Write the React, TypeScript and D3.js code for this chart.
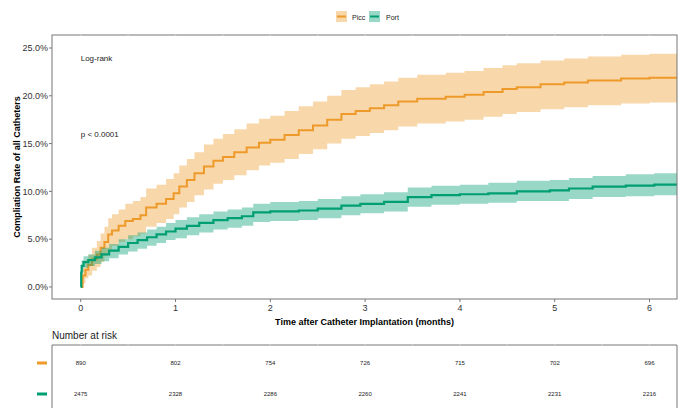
import React from "react";
import * as d3 from "d3";

// Kaplan-Meier style cumulative incidence (%)
const piccTime = [0, 0.02, 0.05, 0.08, 0.12, 0.17, 0.21, 0.25, 0.29, 0.33, 0.4, 0.47, 0.55, 0.63, 0.69, 0.8, 0.9, 0.98, 1.04, 1.12, 1.2, 1.3, 1.4, 1.5, 1.62, 1.75, 1.88, 2.0, 2.15, 2.3, 2.45, 2.6, 2.75, 2.9, 3.05, 3.2, 3.35, 3.55, 3.85, 4.05, 4.25, 4.45, 4.6, 4.85, 5.1, 5.35, 5.7, 6.0, 6.29];
const piccEst = [0, 1.2, 1.8, 2.3, 2.9, 3.4, 4.1, 4.7, 5.5, 5.9, 6.4, 6.9, 7.1, 7.5, 8.3, 8.7, 9.2, 9.8, 10.5, 11.2, 11.9, 12.6, 13.2, 13.6, 14.1, 14.6, 15.1, 15.4, 15.9, 16.4, 16.9, 17.5, 18.1, 18.4, 18.7, 19.0, 19.4, 19.7, 19.9, 20.1, 20.4, 20.7, 20.9, 21.2, 21.4, 21.6, 21.8, 21.9, 21.9];
const piccLow = [0, 0.4, 0.9, 1.2, 1.7, 2.1, 2.6, 3.2, 3.8, 4.3, 4.7, 5.0, 5.3, 5.6, 6.3, 6.7, 7.1, 7.6, 8.3, 8.9, 9.6, 10.2, 10.8, 11.2, 11.7, 12.2, 12.7, 13.0, 13.4, 13.9, 14.4, 15.0, 15.5, 15.8, 16.1, 16.4, 16.8, 17.1, 17.3, 17.5, 17.8, 18.1, 18.3, 18.6, 18.8, 19.0, 19.2, 19.3, 19.3];
const piccHigh = [0, 2.0, 2.8, 3.4, 4.1, 4.8, 5.6, 6.3, 7.2, 7.6, 8.1, 8.7, 9.0, 9.4, 10.3, 10.7, 11.3, 11.9, 12.7, 13.4, 14.1, 14.9, 15.5, 16.0, 16.5, 17.1, 17.6, 17.9, 18.4, 18.9, 19.4, 20.0, 20.6, 20.9, 21.2, 21.5, 21.9, 22.2, 22.4, 22.6, 22.9, 23.2, 23.4, 23.7, 23.9, 24.1, 24.3, 24.4, 24.4];

const portTime = [0, 0.005, 0.01, 0.03, 0.08, 0.15, 0.22, 0.3, 0.4, 0.5, 0.6, 0.7, 0.8, 0.9, 1.0, 1.12, 1.25, 1.4, 1.55, 1.7, 1.82, 2.0, 2.3, 2.5, 2.75, 2.95, 3.2, 3.45, 3.7, 4.0, 4.3, 4.6, 4.95, 5.15, 5.4, 5.75, 6.05, 6.29];
const portEst = [0, 1.5, 2.2, 2.6, 2.8, 3.1, 3.4, 3.8, 4.2, 4.6, 4.9, 5.2, 5.5, 5.8, 6.1, 6.4, 6.7, 7.0, 7.2, 7.4, 7.8, 7.9, 8.0, 8.2, 8.5, 8.7, 8.9, 9.4, 9.6, 9.7, 9.8, 10.0, 10.1, 10.3, 10.5, 10.6, 10.7, 10.7];
const portLow = [0, 1.0, 1.6, 2.0, 2.2, 2.4, 2.7, 3.0, 3.4, 3.7, 4.0, 4.3, 4.6, 4.9, 5.1, 5.4, 5.7, 6.0, 6.2, 6.4, 6.8, 6.9, 7.0, 7.2, 7.5, 7.7, 7.9, 8.4, 8.6, 8.7, 8.8, 9.0, 9.0, 9.2, 9.4, 9.5, 9.6, 9.6];
const portHigh = [0, 2.0, 2.8, 3.2, 3.4, 3.8, 4.1, 4.5, 5.0, 5.4, 5.7, 6.0, 6.3, 6.7, 7.0, 7.3, 7.6, 7.9, 8.1, 8.3, 8.7, 8.9, 9.0, 9.2, 9.5, 9.7, 9.9, 10.4, 10.6, 10.7, 10.9, 11.1, 11.2, 11.4, 11.6, 11.8, 11.9, 11.9];

const xTicks = [0, 1, 2, 3, 4, 5, 6];
const yTicks = [0, 5, 10, 15, 20, 25];
const piccRisk = [890, 802, 754, 726, 715, 702, 696];
const portRisk = [2475, 2328, 2286, 2260, 2241, 2231, 2216];

const W = 681;
const H = 408;
const left = 52;
const right = 677;
const top = 35;
const bottom = 299;
const tableTop = 345;

const font = "'Liberation Sans', Arial, sans-serif";
const orange = "#EE9A2A";
const green = "#009E73";

const x = d3.scaleLinear().domain([-0.303, 6.29]).range([left, right]);
const y = d3.scaleLinear().domain([-1.26, 26.36]).range([bottom, top]);

type Pt = { t: number; e: number; lo: number; hi: number };

const zipSeries = (t: number[], e: number[], lo: number[], hi: number[]): Pt[] =>
  t.map((v, i) => ({ t: v, e: e[i], lo: lo[i], hi: hi[i] }));

const picc = zipSeries(piccTime, piccEst, piccLow, piccHigh);
const port = zipSeries(portTime, portEst, portLow, portHigh);

const line = d3
  .line<Pt>()
  .x((d) => x(d.t))
  .y((d) => y(d.e))
  .curve(d3.curveStepAfter);

const band = d3
  .area<Pt>()
  .x((d) => x(d.t))
  .y0((d) => y(d.lo))
  .y1((d) => y(d.hi))
  .curve(d3.curveStepAfter);

// light marks on the top border, every half month
const halfTicks = d3.range(0, 6.5, 0.5);

const App: React.FC = () => {
  return (
    <svg
      width={W}
      height={H}
      style={{ position: "absolute", left: 0, top: 0, background: "#fff" }}
      fontFamily={font}
    >
      {/* legend */}
      <g>
        <rect x={336} y={11} width={11} height={11} fill={orange} opacity={0.4} />
        <line x1={337} x2={346} y1={16.5} y2={16.5} stroke={orange} strokeWidth={2} />
        <text x={352} y={19.5} fontSize={7} fill="#222">Picc</text>
        <rect x={369} y={11} width={11} height={11} fill={green} opacity={0.4} />
        <line x1={370} x2={379} y1={16.5} y2={16.5} stroke={green} strokeWidth={2} />
        <text x={386} y={19.5} fontSize={7} fill="#222">Port</text>
      </g>

      {/* curves */}
      <path d={band(picc) || ""} fill={orange} opacity={0.4} />
      <path d={line(picc) || ""} fill="none" stroke={orange} strokeWidth={2} />
      <path d={band(port) || ""} fill={green} opacity={0.4} />
      <path d={line(port) || ""} fill="none" stroke={green} strokeWidth={2.2} />

      {/* panel border */}
      <rect x={left} y={top} width={right - left} height={bottom - top} fill="none" stroke="#777" strokeWidth={1} />
      {halfTicks.map((t) => (
        <line key={t} x1={x(t)} x2={x(t)} y1={top - 0.5} y2={top + 0.5} stroke="#ddd" strokeWidth={1.5} />
      ))}

      {/* y axis */}
      {yTicks.map((v) => (
        <g key={v}>
          <line x1={left - 3} x2={left} y1={y(v)} y2={y(v)} stroke="#777" />
          <text x={left - 4} y={y(v) + 3.2} fontSize={9} textAnchor="end" fill="#333">
            {v.toFixed(1)}%
          </text>
        </g>
      ))}
      <text
        transform={`translate(20,${(top + bottom) / 2}) rotate(-90)`}
        fontSize={9}
        fontWeight="bold"
        textAnchor="middle"
        fill="#000"
      >
        Compliation Rate of all Catheters
      </text>

      {/* x axis */}
      {xTicks.map((v) => (
        <g key={v}>
          <line x1={x(v)} x2={x(v)} y1={bottom} y2={bottom + 3} stroke="#777" />
          <text x={x(v)} y={bottom + 12} fontSize={9} textAnchor="middle" fill="#333">
            {v}
          </text>
        </g>
      ))}
      <text x={(left + right) / 2} y={325} fontSize={9} fontWeight="bold" textAnchor="middle" fill="#000">
        Time after Catheter Implantation (months)
      </text>

      {/* annotations */}
      <text x={x(0)} y={61} fontSize={8} fill="#222">Log-rank</text>
      <text x={x(0)} y={137} fontSize={8} fill="#222">p &lt; 0.0001</text>

      {/* risk table */}
      <text x={left} y={339} fontSize={10} fill="#222">Number at risk</text>
      <line x1={left} x2={right} y1={tableTop} y2={tableTop} stroke="#777" />
      <line x1={left} x2={left} y1={tableTop} y2={H} stroke="#777" />
      <line x1={right} x2={right} y1={tableTop} y2={H} stroke="#777" />
      {halfTicks.map((t) => (
        <line key={"r" + t} x1={x(t)} x2={x(t)} y1={tableTop - 0.5} y2={tableTop + 0.5} stroke="#ddd" strokeWidth={1.5} />
      ))}
      <line x1={37} x2={47} y1={363} y2={363} stroke={orange} strokeWidth={3} />
      <line x1={37} x2={47} y1={394} y2={394} stroke={green} strokeWidth={3} />
      {xTicks.map((v, i) => (
        <g key={"n" + v}>
          <text x={x(v)} y={365} fontSize={6} textAnchor="middle" fill="#222">{piccRisk[i]}</text>
          <text x={x(v)} y={396} fontSize={6} textAnchor="middle" fill="#222">{portRisk[i]}</text>
        </g>
      ))}
    </svg>
  );
};

export default App;
